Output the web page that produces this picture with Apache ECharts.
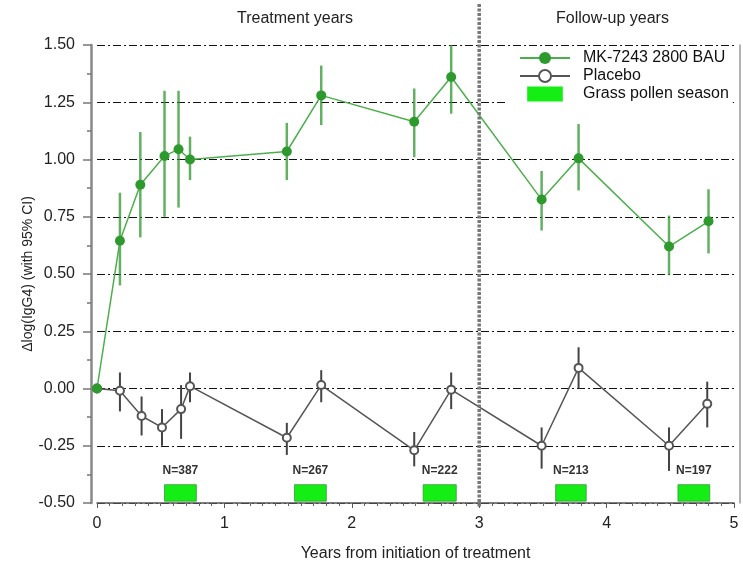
<!DOCTYPE html>
<html>
<head>
<meta charset="utf-8">
<script src="https://cdn.jsdelivr.net/npm/echarts@6/dist/echarts.min.js"></script>
<style>
  html, body { margin: 0; padding: 0; background: #fff; }
  #chart { width: 743px; height: 563px; }
</style>
</head>
<body>
<div id="chart"></div>
<script>
// MK-7243 2800 BAU
const activeYears = [0, 0.18, 0.34, 0.53, 0.64, 0.73, 1.49, 1.76, 2.49, 2.78, 3.49, 3.78, 4.49, 4.80]
const activeMean  = [0, 0.645, 0.89, 1.015, 1.045, 1.00, 1.035, 1.28, 1.165, 1.36, 0.825, 1.005, 0.62, 0.73]
const activeLow   = [0, 0.45, 0.66, 0.75, 0.79, 0.91, 0.91, 1.15, 1.01, 1.20, 0.69, 0.865, 0.495, 0.59]
const activeHigh  = [0, 0.855, 1.12, 1.30, 1.30, 1.10, 1.16, 1.41, 1.31, 1.50, 0.95, 1.155, 0.755, 0.87]

// Placebo
const placeboYears = [0, 0.18, 0.35, 0.51, 0.66, 0.73, 1.49, 1.76, 2.49, 2.78, 3.49, 3.78, 4.49, 4.79]
const placeboMean  = [0, -0.01, -0.12, -0.17, -0.09, 0.01, -0.215, 0.015, -0.27, -0.005, -0.25, 0.09, -0.25, -0.067]
const placeboLow   = [0, -0.10, -0.205, -0.25, -0.22, -0.06, -0.29, -0.06, -0.34, -0.09, -0.35, 0.00, -0.36, -0.17]
const placeboHigh  = [0, 0.07, -0.035, -0.09, 0.015, 0.07, -0.15, 0.08, -0.19, 0.07, -0.17, 0.18, -0.17, 0.03]

// grass pollen seasons and patients per year
const pollenStart = [0.53, 1.55, 2.56, 3.60, 4.56]
const pollenEnd   = [0.78, 1.80, 2.82, 3.84, 4.81]
const nLabels     = ['N=387', 'N=267', 'N=222', 'N=213', 'N=197']

const xTicks = [0, 1, 2, 3, 4, 5]
const yTicks = [-0.5, -0.25, 0, 0.25, 0.5, 0.75, 1.0, 1.25, 1.5]
const followUpStart = 3

const FONT = 'Liberation Sans, Arial, sans-serif'

const chart = echarts.init(document.getElementById('chart'))

function errorBars(years, low, high, color, width) {
  return {
    type: 'custom',
    silent: true,
    z: 1,
    data: years.map((x, i) => [x, low[i], high[i]]),
    renderItem(params, api) {
      const a = api.coord([api.value(0), api.value(1)])
      const b = api.coord([api.value(0), api.value(2)])
      return {
        type: 'line',
        shape: { x1: a[0], y1: a[1], x2: b[0], y2: b[1] },
        style: { stroke: color, lineWidth: width }
      }
    }
  }
}

const option = {
  animation: false,
  textStyle: { fontFamily: FONT },
  grid: { left: 97, right: 9, top: 45, bottom: 60, outerBoundsMode: 'none' },
  xAxis: {
    type: 'value',
    min: xTicks[0],
    max: xTicks[xTicks.length - 1],
    interval: 1,
    name: 'Years from initiation of treatment',
    nameLocation: 'middle',
    nameGap: 43,
    nameTextStyle: { fontSize: 16, color: '#222', fontFamily: FONT },
    axisLine: { onZero: false, lineStyle: { color: '#555', width: 1.5 } },
    axisTick: { length: 5, lineStyle: { color: '#555' } },
    minorTick: { show: true, splitNumber: 10, length: 3, lineStyle: { color: '#666' } },
    splitLine: { show: false },
    axisLabel: { fontSize: 16, color: '#222', margin: 13, fontFamily: FONT }
  },
  yAxis: [{
    type: 'value',
    min: yTicks[0],
    max: yTicks[yTicks.length - 1],
    interval: 0.25,
    offset: 6,
    name: 'Δlog(IgG4) (with 95% CI)',
    nameLocation: 'middle',
    nameGap: 56,
    nameMoveOverlap: false,
    nameTextStyle: { fontSize: 14, color: '#222', fontFamily: FONT },
    axisLine: { show: true, onZero: false, lineStyle: { color: '#888', width: 2.5 } },
    axisTick: { show: true, length: 8, lineStyle: { color: '#777', width: 1.5 } },
    minorTick: { show: true, splitNumber: 2, length: 4, lineStyle: { color: '#777', width: 1.5 } },
    splitLine: { show: true, lineStyle: { color: '#111', width: 1, type: [8, 3, 2, 3] } },
    axisLabel: {
      fontSize: 16, color: '#222', margin: 16, fontFamily: FONT,
      formatter: v => v.toFixed(2)
    }
  }, {
    type: 'value',
    position: 'right',
    offset: 6,
    min: yTicks[0],
    max: yTicks[yTicks.length - 1],
    axisLine: { show: true, onZero: false, lineStyle: { color: '#999', width: 1.5 } },
    axisTick: { show: false },
    axisLabel: { show: false },
    splitLine: { show: false }
  }],
  legend: {
    data: [
      { name: 'MK-7243 2800 BAU' },
      { name: 'Placebo' },
      { name: 'Grass pollen season', icon: 'path://M0,0M50,0M50,16M0,16M6,0L44,0L44,16L6,16Z' }
    ],
    orient: 'vertical',
    left: 505,
    top: 47,
    padding: [3, 4, 2, 14],
    itemWidth: 50,
    itemHeight: 15,
    itemGap: 2,
    backgroundColor: '#fff',
    selectedMode: false,
    textStyle: { fontSize: 16, color: '#111', fontFamily: FONT, padding: [0, 0, 0, 8] }
  },
  series: [
    errorBars(activeYears, activeLow, activeHigh, 'rgba(46,150,46,0.75)', 2.5),
    errorBars(placeboYears, placeboLow, placeboHigh, '#444', 2),
    {
      name: 'Grass pollen season',
      type: 'custom',
      silent: true,
      itemStyle: { color: '#14ee14' },
      data: pollenStart.map((s, i) => [s, pollenEnd[i]]),
      renderItem(params, api) {
        const tl = api.coord([api.value(0), -0.42])
        const br = api.coord([api.value(1), -0.492])
        const mid = api.coord([(api.value(0) + api.value(1)) / 2, -0.36])
        return {
          type: 'group',
          children: [{
            type: 'rect',
            shape: { x: tl[0], y: tl[1], width: br[0] - tl[0], height: br[1] - tl[1] },
            style: { fill: '#14ee14', stroke: '#3a9a3a', lineWidth: 0.8 }
          }, {
            type: 'text',
            x: mid[0], y: mid[1],
            style: {
              text: nLabels[params.dataIndex],
              fill: '#333', font: 'bold 12px ' + FONT,
              align: 'center', verticalAlign: 'middle'
            }
          }]
        }
      }
    },
    {
      name: 'Placebo',
      type: 'line',
      z: 3,
      data: placeboYears.map((x, i) => [x, placeboMean[i]]),
      symbol: 'emptyCircle',
      symbolSize: 8,
      lineStyle: { color: '#555', width: 1.5 },
      itemStyle: { color: '#555', borderWidth: 1.5 }
    },
    {
      name: 'MK-7243 2800 BAU',
      type: 'line',
      z: 4,
      data: activeYears.map((x, i) => [x, activeMean[i]]),
      symbol: 'circle',
      symbolSize: 10,
      lineStyle: { color: '#4caf4c', width: 1.5 },
      itemStyle: { color: '#2e9a2e' }
    }
  ]
}

chart.setOption(option)

// treatment / follow-up divider and period headers
const divX = chart.convertToPixel({ xAxisIndex: 0 }, followUpStart)
const axisBottom = chart.convertToPixel({ yAxisIndex: 0 }, yTicks[0])
chart.setOption({
  graphic: [{
    type: 'line',
    z: 10,
    silent: true,
    shape: { x1: divX, y1: 4, x2: divX, y2: axisBottom + 5 },
    style: { stroke: '#777', lineWidth: 3.5, lineDash: [3, 1.5] }
  }, {
    type: 'text',
    left: 237, top: 11,
    style: { text: 'Treatment years', font: '16px ' + FONT, fill: '#222' }
  }, {
    type: 'text',
    left: 556, top: 11,
    style: { text: 'Follow-up years', font: '16px ' + FONT, fill: '#222' }
  }]
})
</script>
</body>
</html>
